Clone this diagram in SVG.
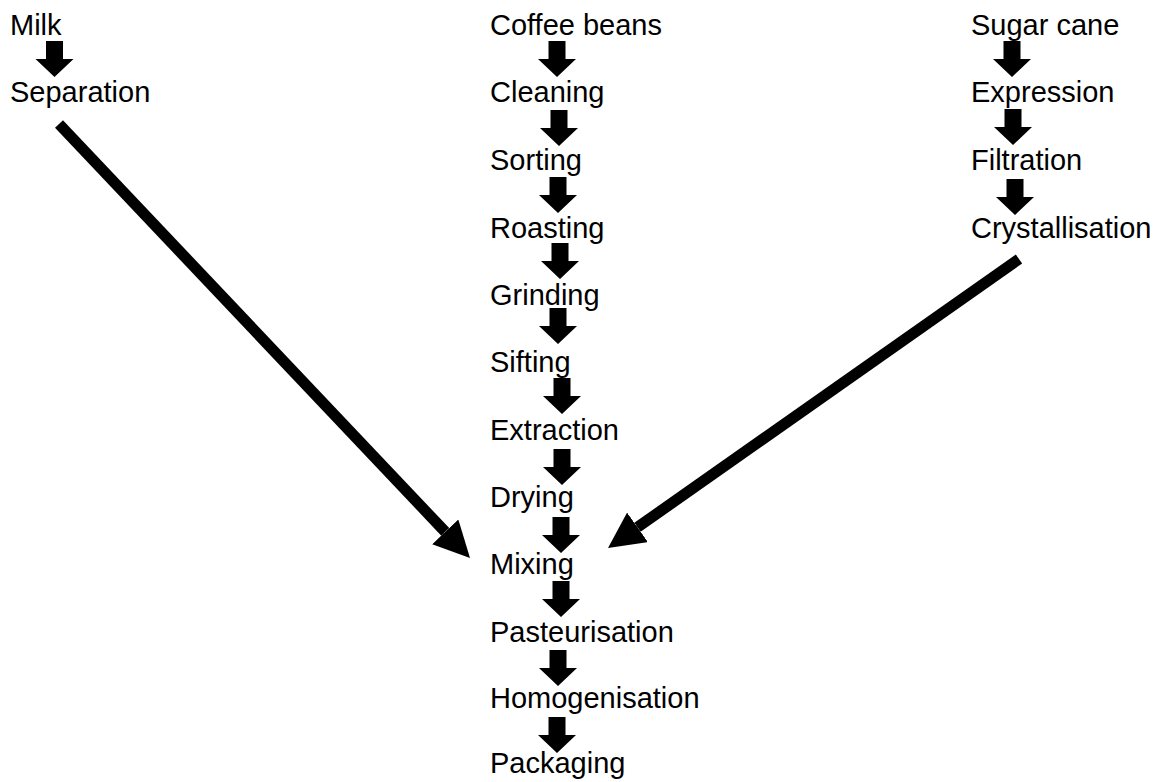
<svg xmlns="http://www.w3.org/2000/svg" xmlns:xlink="http://www.w3.org/1999/xlink" width="1157" height="782" viewBox="0 0 1157 782">
<style>
text{font-family:"Liberation Sans",Arial,sans-serif;font-size:29px;fill:#000}
.big{stroke:#000;stroke-width:11;fill:none}
.sa{fill:#000}
</style>
<defs>
<path id="sa" d="M-8.5,-36 H8.5 V-18 H19 L0,0 L-19,-18 H-8.5 Z"/>
<marker id="bh" markerUnits="userSpaceOnUse" markerWidth="36" markerHeight="36" viewBox="0 0 36 36" refX="0" refY="18" orient="auto">
<path d="M0,0 L36,18 L0,36 Z" fill="#000"/>
</marker>
</defs>
<rect width="1157" height="782" fill="#fff"/>
<g id="milk-col">
<g id="n-milk"><text x="10" y="35">Milk</text></g>
<g id="n-separation"><text x="10" y="102">Separation</text></g>
</g>
<g id="coffee-col">
<g id="n-coffee"><text x="490" y="35">Coffee beans</text></g>
<g id="n-cleaning"><text x="490" y="102">Cleaning</text></g>
<g id="n-sorting"><text x="490" y="170">Sorting</text></g>
<g id="n-roasting"><text x="490" y="238">Roasting</text></g>
<g id="n-grinding"><text x="490" y="305">Grinding</text></g>
<g id="n-sifting"><text x="490" y="372">Sifting</text></g>
<g id="n-extraction"><text x="490" y="440">Extraction</text></g>
<g id="n-drying"><text x="490" y="507">Drying</text></g>
<g id="n-mixing"><text x="490" y="574">Mixing</text></g>
<g id="n-pasteurisation"><text x="490" y="642">Pasteurisation</text></g>
<g id="n-homogenisation"><text x="490" y="708">Homogenisation</text></g>
<g id="n-packaging"><text x="490" y="773">Packaging</text></g>
</g>
<g id="sugar-col">
<g id="n-sugar"><text x="971" y="35">Sugar cane</text></g>
<g id="n-expression"><text x="971" y="102">Expression</text></g>
<g id="n-filtration"><text x="971" y="170">Filtration</text></g>
<g id="n-crystallisation"><text x="971" y="238">Crystallisation</text></g>
</g>
<g id="connectors" class="sa">
<use xlink:href="#sa" x="54.5" y="77"/>
<use xlink:href="#sa" x="557" y="77"/>
<use xlink:href="#sa" x="559" y="146"/>
<use xlink:href="#sa" x="558" y="213"/>
<use xlink:href="#sa" x="560" y="279"/>
<use xlink:href="#sa" x="558" y="344"/>
<use xlink:href="#sa" x="562" y="414"/>
<use xlink:href="#sa" x="562" y="485"/>
<use xlink:href="#sa" x="561" y="553"/>
<use xlink:href="#sa" x="561" y="617"/>
<use xlink:href="#sa" x="558" y="686"/>
<use xlink:href="#sa" x="557" y="753"/>
<use xlink:href="#sa" x="1012" y="77"/>
<use xlink:href="#sa" x="1013" y="145"/>
<use xlink:href="#sa" x="1015" y="215"/>
<line class="big" x1="59" y1="124" x2="445.25" y2="531.86" marker-end="url(#bh)"/>
<line class="big" x1="1019" y1="259" x2="637.45" y2="527.29" marker-end="url(#bh)"/>
</g>
</svg>
